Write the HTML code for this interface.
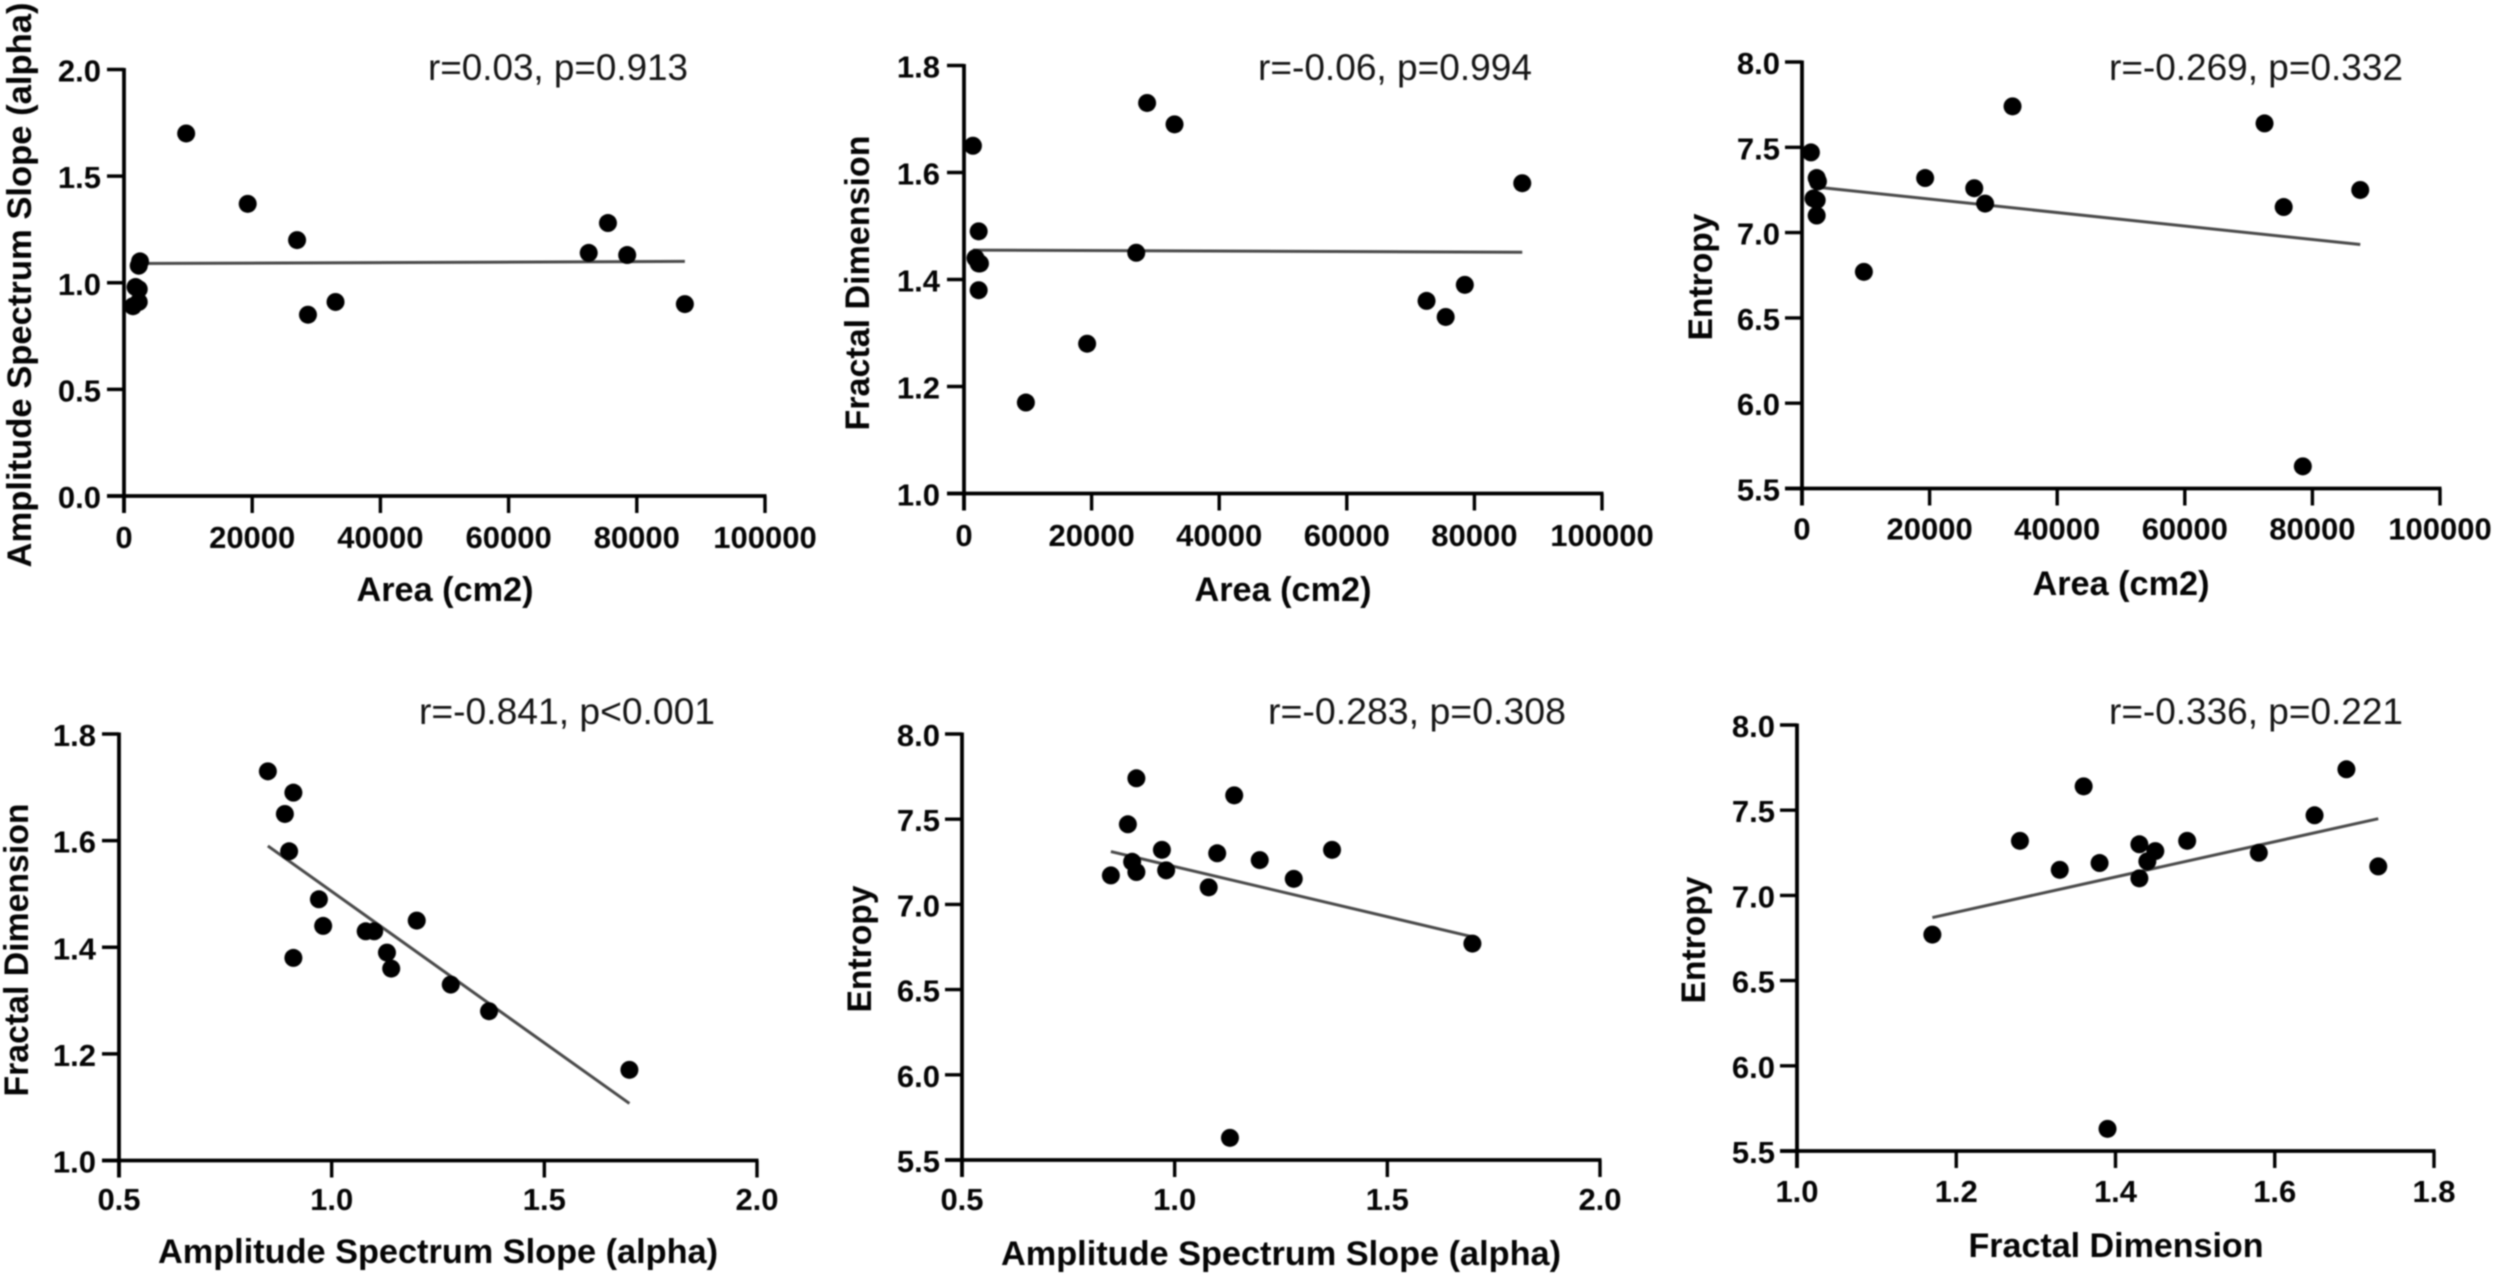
<!DOCTYPE html>
<html>
<head>
<meta charset="utf-8">
<title>Correlation scatter plots</title>
<style>
html,body{margin:0;padding:0;background:#fff;}
body{width:2500px;height:1280px;overflow:hidden;}
svg{display:block;filter:blur(0.9px);}
text{font-family:"Liberation Sans",sans-serif;fill:#050505;}
.tick{font-size:31px;font-weight:bold;}
.title{font-size:34px;font-weight:bold;}
.note{font-size:37px;fill:#151515;}
</style>
</head>
<body>
<svg id="figure" xmlns="http://www.w3.org/2000/svg" width="2500" height="1280" viewBox="0 0 2500 1280"></svg>
<script>
// Values: one entry per subject.
const area = [28700, 33000, 1400, 87500, 2300, 1800, 2300, 2300, 2500, 78500, 72500, 27000, 75500, 19300, 9700];
const alpha = [0.85, 0.91, 0.89, 0.90, 0.97, 0.98, 0.91, 1.08, 1.10, 1.13, 1.14, 1.20, 1.28, 1.37, 1.70];
const fractal = [1.73, 1.69, 1.65, 1.58, 1.49, 1.44, 1.38, 1.43, 1.43, 1.39, 1.36, 1.45, 1.33, 1.28, 1.17];
const entropy = [7.17, 7.74, 7.47, 7.25, 7.32, 7.20, 7.19, 7.10, 7.30, 5.63, 7.64, 7.26, 7.15, 7.32, 6.77];

// Tick labels
const areaTicks = ['0', '20000', '40000', '60000', '80000', '100000'];
const alphaTicksX = ['0.5', '1.0', '1.5', '2.0'];
const fractalTicksX = ['1.0', '1.2', '1.4', '1.6', '1.8'];
const alphaTicksY = ['0.0', '0.5', '1.0', '1.5', '2.0'];
const fractalTicksY = ['1.0', '1.2', '1.4', '1.6', '1.8'];
const entropyTicksY = ['5.5', '6.0', '6.5', '7.0', '7.5', '8.0'];

// Fit-line values at the left and right end of each panel's data range
const fitStart = [1.09, 1.455, 7.27, 1.59, 7.31, 6.87];
const fitEnd = [1.10, 1.451, 6.93, 1.107, 6.81, 7.45];

// Printed statistics and titles
const notes = ['r=0.03, p=0.913', 'r=-0.06, p=0.994', 'r=-0.269, p=0.332', 'r=-0.841, p<0.001', 'r=-0.283, p=0.308', 'r=-0.336, p=0.221'];
const xTitles = ['Area (cm2)', 'Area (cm2)', 'Area (cm2)', 'Amplitude Spectrum Slope (alpha)', 'Amplitude Spectrum Slope (alpha)', 'Fractal Dimension'];
const yTitles = ['Amplitude Spectrum Slope (alpha)', 'Fractal Dimension', 'Entropy', 'Fractal Dimension', 'Entropy', 'Entropy'];

const seriesX = [area, area, area, alpha, alpha, fractal];
const seriesY = [alpha, fractal, entropy, fractal, entropy, entropy];
const ticksX = [areaTicks, areaTicks, areaTicks, alphaTicksX, alphaTicksX, fractalTicksX];
const ticksY = [alphaTicksY, fractalTicksY, entropyTicksY, fractalTicksY, entropyTicksY, entropyTicksY];

// Panel layout (pixels), kept apart from the data
const layouts = [
  {l:124,r:765,t:69.5,b:496,tickR:101,xBase:548,xtC:445,xtB:601,xtW:177,ytX:19,ytC:285,ytW:565,nX:428,nB:80,nW:260},
  {l:964,r:1602,t:65.5,b:493.5,tickR:940,xBase:546,xtC:1283,xtB:601,xtW:177,ytX:857,ytC:283,ytW:295,nX:1258,nB:80,nW:274},
  {l:1802,r:2440,t:62,b:488.5,tickR:1780,xBase:539.5,xtC:2121,xtB:595,xtW:177,ytX:1700,ytC:277,ytW:127,nX:2109,nB:80,nW:294},
  {l:119,r:757,t:734,b:1160.5,tickR:96,xBase:1210,xtC:438,xtB:1263,xtW:560,ytX:16,ytC:950,ytW:293,nX:419,nB:724,nW:296},
  {l:962,r:1600,t:734,b:1160,tickR:940,xBase:1210,xtC:1281,xtB:1265,xtW:560,ytX:859,ytC:949,ytW:127,nX:1268,nB:724,nW:298},
  {l:1797,r:2434,t:725,b:1151,tickR:1775,xBase:1202,xtC:2116,xtB:1257,xtW:295,ytX:1693,ytC:940,ytW:127,nX:2109,nB:724,nW:294}
];

const NS = 'http://www.w3.org/2000/svg';
const figure = document.getElementById('figure');

function make(parent, tag, attrs, content) {
  const node = document.createElementNS(NS, tag);
  for (const key in attrs) node.setAttribute(key, attrs[key]);
  if (content !== undefined) node.textContent = content;
  parent.appendChild(node);
  return node;
}

function linearScale(domainLow, domainHigh, rangeLow, rangeHigh) {
  return function (v) {
    return rangeLow + (v - domainLow) / (domainHigh - domainLow) * (rangeHigh - rangeLow);
  };
}

layouts.forEach(function (p, i) {
  const xLabels = ticksX[i];
  const yLabels = ticksY[i];
  const xScale = linearScale(+xLabels[0], +xLabels[xLabels.length - 1], p.l, p.r);
  const yScale = linearScale(+yLabels[0], +yLabels[yLabels.length - 1], p.b, p.t);

  const panel = make(figure, 'g', {});
  
  

  const yAxis = make(panel, 'line', {x1:p.l, x2:p.l, y1:p.t - 1.5, y2:p.b + 17, stroke:'#000', 'stroke-width':3.8});
  
  

  const xAxis = make(panel, 'line', {x1:p.l - 17, x2:p.r + 1.5, y1:p.b, y2:p.b, stroke:'#000', 'stroke-width':3.8});
  
  

  yLabels.forEach(function (label) {
    const y = yScale(+label);
    const tick = make(panel, 'line', {x1:p.l - 17, x2:p.l, y1:y, y2:y, stroke:'#000', 'stroke-width':3.4});
    
    
    const text = make(panel, 'text', {x:p.tickR, y:y + 12, 'text-anchor':'end', class:'tick'}, label);
    
    
  });

  xLabels.forEach(function (label) {
    const x = xScale(+label);
    const tick = make(panel, 'line', {x1:x, x2:x, y1:p.b, y2:p.b + 17, stroke:'#000', 'stroke-width':3.4});
    
    
    const text = make(panel, 'text', {x:x, y:p.xBase, 'text-anchor':'middle', class:'tick'}, label);
    
    
  });

  const xs = seriesX[i];
  const ys = seriesY[i];
  const xMin = Math.min.apply(null, xs);
  const xMax = Math.max.apply(null, xs);
  const fit = make(panel, 'line', {x1:xScale(xMin), y1:yScale(fitStart[i]), x2:xScale(xMax), y2:yScale(fitEnd[i]), stroke:'#4a4a4a', 'stroke-width':3});
  
  

  xs.forEach(function (xValue, k) {
    const dot = make(panel, 'circle', {cx:xScale(xValue), cy:yScale(ys[k]), r:9, fill:'#000'});
    
    
  });

  const xTitle = make(panel, 'text', {x:p.xtC, y:p.xtB, 'text-anchor':'middle', class:'title', textLength:p.xtW, lengthAdjust:'spacingAndGlyphs'}, xTitles[i]);
  
  

  const yTitle = make(panel, 'text', {x:p.ytX + 12, y:p.ytC, 'text-anchor':'middle', class:'title', textLength:p.ytW, lengthAdjust:'spacingAndGlyphs', transform:'rotate(-90 ' + (p.ytX + 12) + ' ' + p.ytC + ')'}, yTitles[i]);
  
  

  const note = make(panel, 'text', {x:p.nX, y:p.nB, class:'note', textLength:p.nW, lengthAdjust:'spacingAndGlyphs'}, notes[i]);
  
  
});
</script>
</body>
</html>
